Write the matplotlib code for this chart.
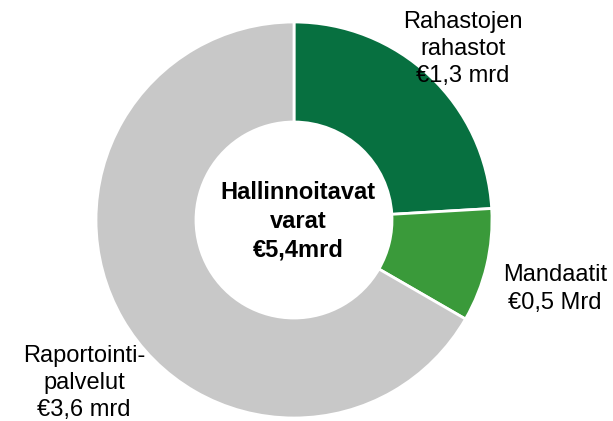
import matplotlib
matplotlib.use("Agg")
import matplotlib.pyplot as plt

plt.rcParams['font.family'] = ['Liberation Sans', 'DejaVu Sans']

labels = ['Rahastojen\nrahastot\n€1,3 mrd', 'Mandaatit\n€0,5 Mrd', 'Raportointi-\npalvelut\n€3,6 mrd']
values = [1.3, 0.5, 3.6]
colors = ['#077040', '#3a9a3a', '#c8c8c8']
total_label = 'Hallinnoitavat\nvarat\n€5,4mrd'

W, H = 613, 421
fig = plt.figure(figsize=(W / 100, H / 100), dpi=100)
ax = fig.add_axes([0, 0, 1, 1])
ax.set_xlim(0, W)
ax.set_ylim(0, H)
ax.set_aspect('equal')
ax.axis('off')

cx, cy, r = 294, H - 220, 198
ax.pie(values, colors=colors, startangle=90, counterclock=False,
       center=(cx, cy), radius=r,
       wedgeprops=dict(width=r * 0.505, edgecolor='white', linewidth=2))
ax.set_xlim(0, W)
ax.set_ylim(0, H)

# label positions in pixels (from top-left)
label_pos = [(463, 49), (555, 289), (84, 383)]
for txt, (x, y) in zip(labels, label_pos):
    ax.text(x, H - y, txt, ha='center', va='center', fontsize=17, linespacing=1.32)

ax.text(298, H - 221, total_label, ha='center', va='center', fontsize=17,
        fontweight='bold', linespacing=1.32)

fig.savefig('out.png', dpi=100)
